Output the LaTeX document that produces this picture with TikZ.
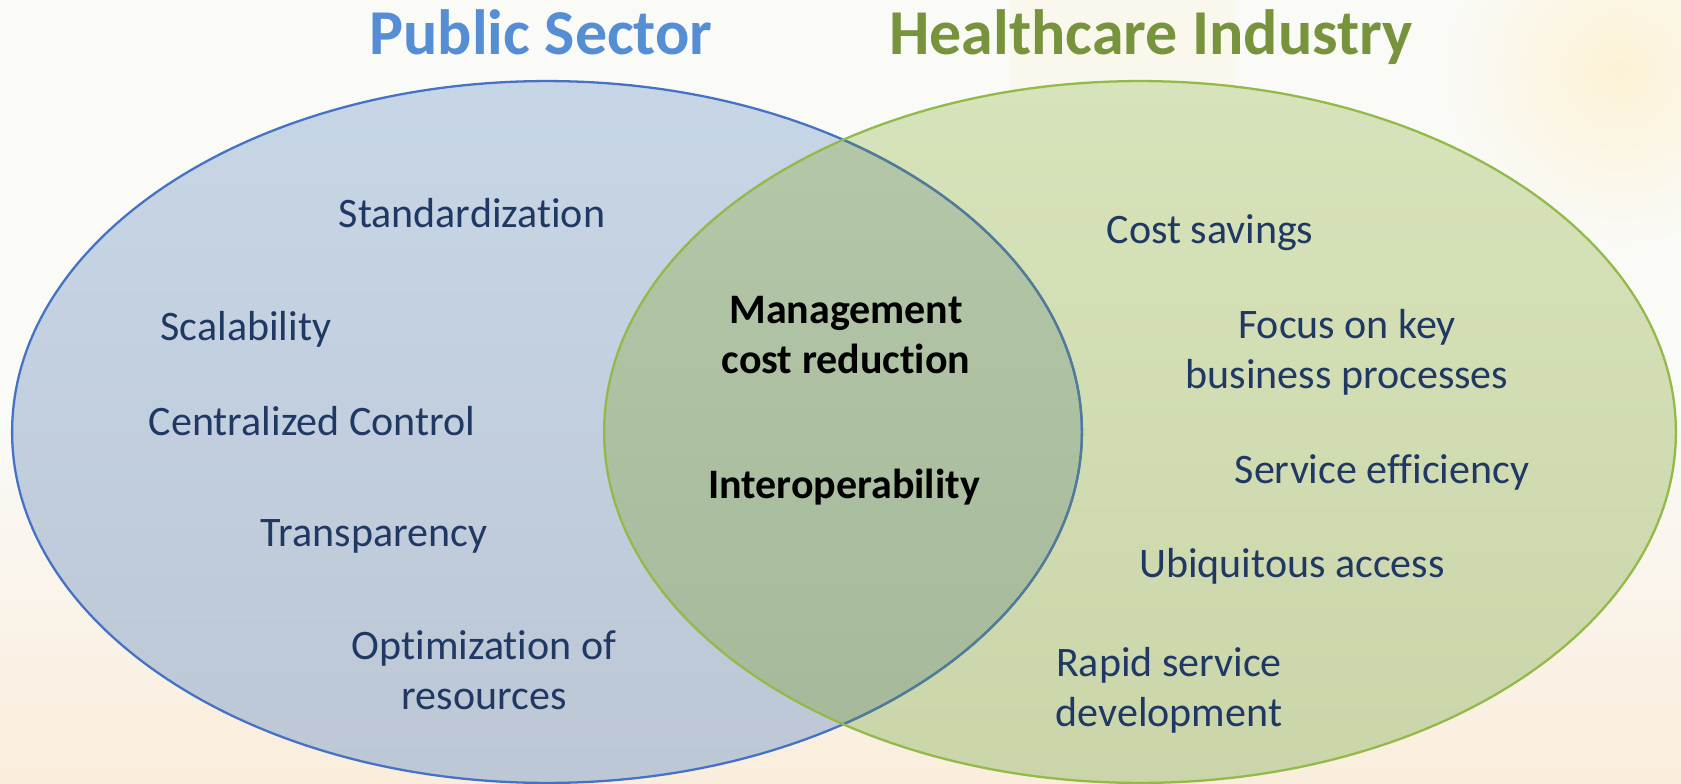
\documentclass[tikz,border=0pt]{standalone}
\definecolor{PubBlue}   {RGB}{85,142,213}
\definecolor{HealthGreen}{RGB}{119,147,60}
\definecolor{PubLine}   {RGB}{68,114,196}
\definecolor{PubMix}    {RGB}{80,124,150}
\definecolor{HealthLine}{RGB}{146,186,72}
\definecolor{ItemNavy}  {RGB}{31,56,100}
\definecolor{PageBg}    {RGB}{250,250,247}
\definecolor{PageWarm}  {RGB}{250,237,220}
\definecolor{PageGold}  {RGB}{252,242,214}
\usepackage{fontspec}
\setmainfont{Carlito}[Ligatures={NoCommon}]
\usetikzlibrary{positioning}

\begin{document}
\begin{tikzpicture}[x=0.02cm,y=-0.02cm,
    every node/.style={inner sep=0pt,anchor=base,align=center},
    item/.style={text=ItemNavy,font=\fontsize{23.9pt}{28.45pt}\selectfont},
    common/.style={text=black,font=\fontsize{23.9pt}{28.45pt}\selectfont\bfseries},
    heading/.style={font=\fontsize{36.4pt}{40pt}\selectfont\bfseries}]
  \useasboundingbox (0,0) rectangle (1681,784);
  % soft page background
  \fill[PageBg] (0,0) rectangle (1681,784);
  \shade[top color=PageBg,bottom color=PageWarm] (0,420) rectangle (1681,784);
  \shade[inner color=PageGold,outer color=PageBg] (1620,70) circle [radius=3.6cm];
  \fill[PageGold,opacity=0.3] (1010,0) -- (1235,0) -- (1235,240) -- (1125,350) -- (1010,240) -- cycle;

  % the two sets
  \shade[top color={rgb,255:red,199;green,214;blue,230},
         bottom color={rgb,255:red,189;green,199;blue,213}]
    (547,432) ellipse [x radius=10.7cm,y radius=7.02cm];
  \shade[top color={rgb,255:red,215;green,227;blue,186},
         bottom color={rgb,255:red,203;green,213;blue,170}]
    (1140,432) ellipse [x radius=10.72cm,y radius=7.02cm];
  \begin{scope}
    \clip (547,432) ellipse [x radius=10.7cm,y radius=7.02cm];
    \shade[top color={rgb,255:red,181;green,200;blue,170},
           bottom color={rgb,255:red,166;green,184;blue,154}]
      (1140,432) ellipse [x radius=10.72cm,y radius=7.02cm];
  \end{scope}
  \draw[PubLine,line width=1.3pt] (547,432) ellipse [x radius=10.7cm,y radius=7.02cm];
  \begin{scope}
    \clip (1140,432) ellipse [x radius=10.72cm,y radius=7.02cm];
    \draw[PubMix,line width=1.3pt] (547,432) ellipse [x radius=10.7cm,y radius=7.02cm];
  \end{scope}
  \draw[HealthLine,line width=1.3pt] (1140,432) ellipse [x radius=10.72cm,y radius=7.02cm];

  % titles
  \node[heading,text=PubBlue] (pubtitle) at (541,55) {Public Sector};
  \node[heading,text=HealthGreen] (healthtitle) at (1151,55) {Healthcare Industry};

  % public sector benefits (y = baseline of the last line)
  \foreach \x/\y/\t [count=\i] in {
      472/227/{Standardization},
      246/340/{Scalability},
      312/435/{Centralized Control},
      374/546/{Transparency},
      484/709/{Optimization of\\resources}}{
    \node[item] (pub\i) at (\x,\y) {\t};
  }
  % healthcare benefits
  \foreach \x/\y/\t [count=\i] in {
      1210/243/{Cost savings},
      1347/388/{Focus on key\\business processes},
      1382/483/{Service efficiency},
      1292/577/{Ubiquitous access},
      1169/726/{Rapid service\\development}}{
    \node[item] (hc\i) at (\x,\y) {\t};
  }
  % shared ground
  \node[common] (mgmt) at (846,373) {Management\\cost reduction};
  \node[common] (interop) at (844,498) {Interoperability};
\end{tikzpicture}
\end{document}
